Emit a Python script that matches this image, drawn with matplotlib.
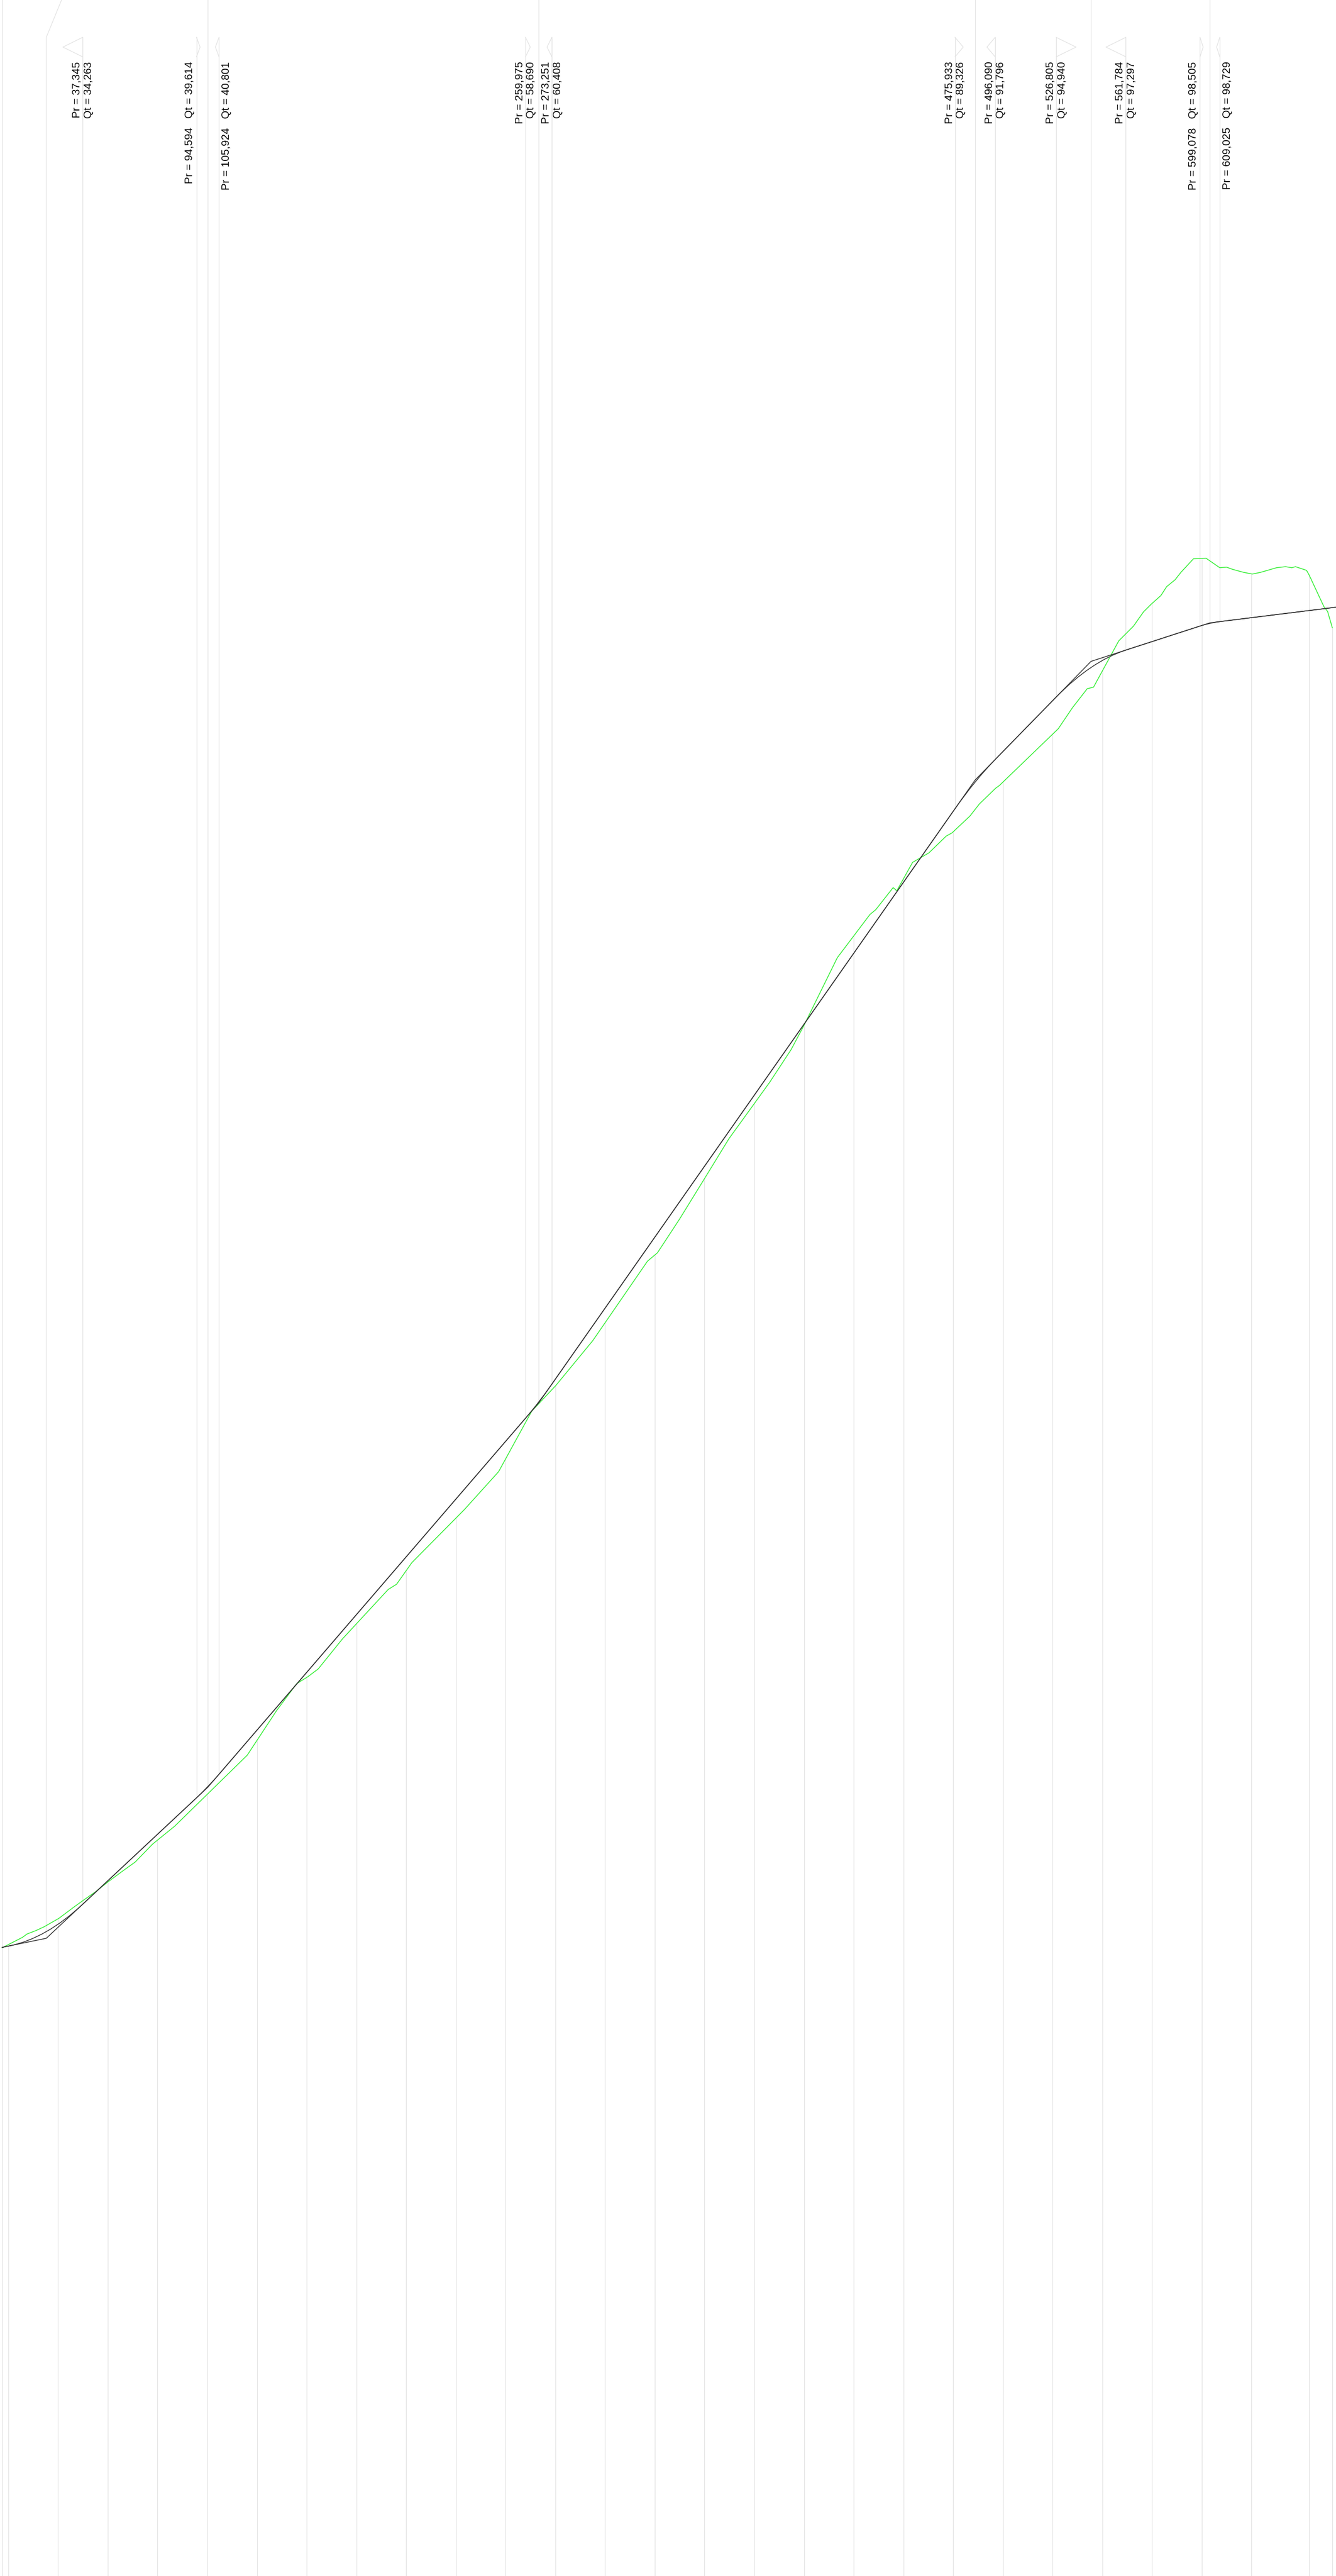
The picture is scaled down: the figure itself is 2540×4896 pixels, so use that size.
import numpy as np
import matplotlib
matplotlib.use("Agg")
import matplotlib.pyplot as plt
from matplotlib.path import Path
from matplotlib.patches import PathPatch

plt.rcParams['font.family'] = ['Liberation Sans', 'DejaVu Sans']

# ---------------- data ----------------
# observed series (green)
green_pr = [-3120, 7192, 9308, 14067, 18033, 25437, 32841, 37601, 43682, 50028,
            57168, 63778, 72504, 83610, 120100, 134907, 144955, 150508, 155796, 167960,
            190964, 195195, 202863, 229305, 246492, 263151, 275314, 293824, 321323, 326347,
            337453, 349352, 362308, 374736, 382933, 393510, 400120, 406731, 416779, 424976,
            433173, 436082, 444807, 446658, 454591, 462788, 471514, 474422, 483413, 488172,
            496369, 498220, 527835, 534975, 542378, 545551, 558244, 561681, 565647, 570671,
            574638, 579398, 582306, 586537, 589446, 595791, 602138, 609012, 612450, 615358,
            621175, 625406, 629372, 637570, 642065, 645238, 647089, 652642, 653964, 661368,
            663219, 665599]
green_qt = [32079, 32608, 32767, 32952, 33137, 33560, 34116, 34459, 34882, 35385,
            35914, 36389, 37288, 38188, 41757, 44005, 45353, 45697, 46094, 47601,
            50086, 50351, 51435, 54106, 56009, 59050, 60346, 62593, 66586, 67009,
            68702, 70632, 72747, 74466, 75603, 77216, 78459, 79807, 81843, 82927,
            84012, 84250, 85360, 85201, 86629, 87105, 87951, 88110, 88956, 89564,
            90358, 90490, 93345, 94403, 95355, 95434, 97761, 98105, 98502, 99216,
            99612, 100035, 100485, 100829, 101199, 101886, 101913, 101437, 101464, 101358,
            101199, 101120, 101199, 101437, 101489, 101437, 101489, 101304, 101067, 99481,
            99241, 98422]

# segmented fit (black)
fit_start_pr, fit_start_qt = -3120, 32100
fit_end_pr, fit_end_qt = 667450, 99452
break_pr = [19091, 100259, 266613, 486012, 544295, 604052]
break_qt = [32557, 40144, 59460, 90765, 96730, 98666]
# transition bounds around each breakpoint
left_pr = [837, 94594, 259975, 475933, 526805, 599078]
left_qt = [32181, 39614, 58690, 89326, 94940, 98505]
right_pr = [37345, 105924, 273251, 496090, 561784, 609025]
right_qt = [34263, 40801, 60408, 91796, 97297, 98729]
left_shown = [False, True, True, True, True, True]
flag_width = [9900, 1820, 2430, 4120, 9970, 1590]
leader_top_pr = [26760, 100259, 266613, 486012, 544295, 604052]

# positions of drop lines under the observed series
drop_pr = [0, 25000, 50000, 75000, 100000, 125000, 150000, 175000, 200000, 225000,
           250000, 275000, 300000, 325000, 350000, 375000, 400000, 425000, 450000,
           475000, 500000, 525000, 550000, 575000, 600000, 625000, 654000, 665600]

# ---------------- figure ----------------
W, H, DPI = 2540, 4896, 100
fig = plt.figure(figsize=(W / DPI, H / DPI), dpi=DPI)
ax = fig.add_axes([0, 0, 1, 1])
ax.set_xlim(-4178, 667449)
ax.set_ylim(508, 129968)
ax.axis('off')

GRAY = '#e2e2e2'
GLW = 0.9
TOP = 129968
FLAG_TOP, FLAG_MID, FLAG_BOT = 128091, 127602, 127113
TEXT_Y = 126875

# drop lines from observed series to the bottom
drop_top = np.interp(drop_pr, green_pr, green_qt)
ax.vlines(drop_pr, 0, drop_top, color=GRAY, lw=GLW, zorder=1)
# full-height line at start
ax.axvline(fit_start_pr, color=GRAY, lw=GLW, zorder=1)

# breakpoint centre lines
for bp, bq, lt in zip(break_pr, break_qt, leader_top_pr):
    ax.plot([lt, bp, bp], [TOP, FLAG_TOP, bq], color=GRAY, lw=GLW, zorder=1)

# annotation lines, flags and labels
def annotate(pr, qt, direction, fw, inline):
    ax.plot([pr, pr], [FLAG_TOP, qt], color=GRAY, lw=GLW, zorder=1)
    ax.plot([pr, pr + direction * fw, pr], [FLAG_TOP, FLAG_MID, FLAG_BOT],
            color=GRAY, lw=GLW, zorder=1)
    if inline:
        txt = f"Pr = {pr:,}   Qt = {qt:,}"
        ha = 'right' if direction > 0 else 'left'
        dx = -2.6 if direction > 0 else 3.4
        ax.annotate(txt, (pr, TEXT_Y), xytext=(dx, 0), textcoords='offset points',
                    rotation=90, ha=ha, va='top', fontsize=14.8, color='black')
    else:
        txt = f"Pr = {pr:,}\nQt = {qt:,}"
        ax.annotate(txt, (pr, TEXT_Y), rotation=90, ha='center', va='top',
                    multialignment='right', fontsize=14.8, color='black')

for i in range(len(break_pr)):
    inline = (right_pr[i] - left_pr[i]) < 12000
    if left_shown[i]:
        annotate(left_pr[i], left_qt[i], +1, flag_width[i], inline)
    annotate(right_pr[i], right_qt[i], -1, flag_width[i], inline)

# observed series
ax.plot(green_pr, green_qt, color='#33ee33', lw=1.1, zorder=3)

# segmented fit: sharp
ax.plot([fit_start_pr] + break_pr + [fit_end_pr],
        [fit_start_qt] + break_qt + [fit_end_qt], color='#333333', lw=1.1, zorder=4)

# segmented fit: smooth transitions
verts = [(fit_start_pr, fit_start_qt)]
codes = [Path.MOVETO]
for i in range(len(break_pr)):
    verts += [(left_pr[i], left_qt[i]), (break_pr[i], break_qt[i]), (right_pr[i], right_qt[i])]
    codes += [Path.LINETO, Path.CURVE3, Path.CURVE3]
verts.append((fit_end_pr, fit_end_qt))
codes.append(Path.LINETO)
ax.add_patch(PathPatch(Path(verts, codes), facecolor='none', edgecolor='#333333',
                       lw=1.1, zorder=4))

fig.savefig('out.png', dpi=DPI, facecolor='white')
